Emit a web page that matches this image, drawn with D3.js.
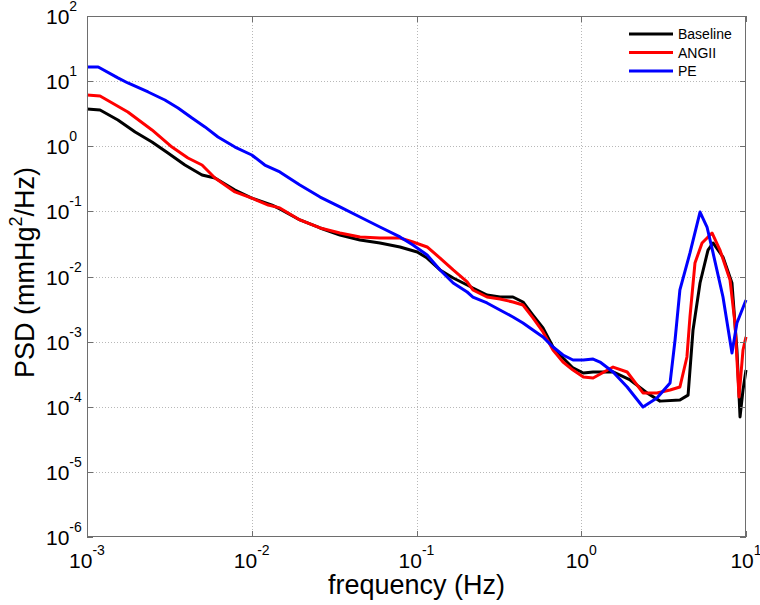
<!DOCTYPE html>
<html>
<head>
<meta charset="utf-8">
<script src="https://cdn.jsdelivr.net/npm/d3@7"></script>
<style>
  body { margin: 0; background: #fff; }
  svg { font-family: Arial, "Liberation Sans", Helvetica, sans-serif; }
</style>
</head>
<body>
<div id="chart"></div>
<script>
// series names, as in the legend
var seriesNames = ["Baseline", "ANGII", "PE"];
var seriesColors = ["#000000", "#ff0000", "#0000ff"];

// frequency (Hz) and PSD (mmHg^2/Hz)
var baselineFreq = [1.0e-3, 1.2e-3, 1.54e-3, 1.96e-3, 2.48e-3, 3.1e-3, 3.93e-3, 4.99e-3, 5.98e-3, 7.91e-3,
    1.0e-2, 1.33e-2, 1.48e-2, 1.96e-2, 2.6e-2, 3.43e-2, 4.54e-2, 6.0e-2, 7.94e-2, 0.101,
    0.116, 0.139, 0.167, 0.203, 0.22, 0.268, 0.321, 0.385, 0.443, 0.509,
    0.586, 0.674, 0.775, 0.891, 1.03, 1.18, 1.56, 1.98, 2.51, 3.01,
    3.97, 4.45, 4.77, 5.26, 5.88, 6.31, 7.25, 8.22, 8.81, 9.2, 9.59, 10];
var baselinePSD = [3.73, 3.6, 2.53, 1.66, 1.16, 0.787, 0.515, 0.362, 0.325, 0.213,
    0.16, 0.125, 0.109, 0.0738, 0.0556, 0.0434, 0.0363, 0.0327, 0.0284, 0.0238,
    0.0192, 0.0126, 0.00948, 0.0074, 0.00665, 0.0052, 0.00484, 0.00484, 0.00406, 0.00256,
    0.00162, 8.27e-4, 5.61e-4, 3.94e-4, 3.3e-4, 3.42e-4, 3.42e-4, 2.58e-4, 1.63e-4, 1.22e-4,
    1.27e-4, 1.51e-4, 1.51e-3, 7.95e-3, 0.0255, 0.0327, 0.0199, 7.95e-3, 7.43e-4, 6.97e-5, 1.81e-4, 3.66e-4];

var angiiFreq = [1.0e-3, 1.2e-3, 1.77e-3, 2.48e-3, 3.28e-3, 4.1e-3, 4.99e-3, 5.98e-3, 7.91e-3, 1.0e-2,
    1.26e-2, 1.48e-2, 1.96e-2, 2.6e-2, 3.43e-2, 4.54e-2, 6.0e-2, 7.94e-2, 9.52e-2, 0.116,
    0.139, 0.167, 0.203, 0.22, 0.268, 0.321, 0.385, 0.443, 0.509, 0.586,
    0.674, 0.775, 0.891, 1.03, 1.18, 1.56, 1.9, 2.37, 2.88, 3.46,
    3.97, 4.38, 4.57, 4.9, 5.41, 6.22, 6.95, 8.0, 8.57, 9.07, 9.59, 10];
var angiiPSD = [6.12, 5.91, 3.36, 1.78, 0.973, 0.66, 0.515, 0.325, 0.199, 0.16,
    0.125, 0.113, 0.0738, 0.0556, 0.0466, 0.0405, 0.039, 0.039, 0.0339, 0.0284,
    0.0192, 0.0126, 0.00824, 0.00621, 0.00484, 0.00451, 0.00406, 0.00365, 0.00231, 0.00141,
    7.43e-4, 4.86e-4, 3.66e-4, 2.86e-4, 2.76e-4, 4.07e-4, 3.42e-4, 1.63e-4, 1.63e-4, 1.81e-4,
    2.01e-4, 5.81e-4, 2.39e-3, 0.0161, 0.0327, 0.0466, 0.0255, 0.00883, 0.00193, 1.41e-4, 7.43e-4, 0.00118];

var peFreq = [1.0e-3, 1.17e-3, 1.54e-3, 1.77e-3, 2.35e-3, 2.97e-3, 3.57e-3, 4.34e-3, 5.2e-3, 6.24e-3,
    7.91e-3, 1.0e-2, 1.2e-2, 1.48e-2, 1.96e-2, 2.6e-2, 3.43e-2, 4.54e-2, 6.0e-2, 7.94e-2,
    9.52e-2, 0.116, 0.139, 0.167, 0.203, 0.22, 0.268, 0.321, 0.385, 0.443,
    0.509, 0.586, 0.674, 0.775, 0.891, 1.03, 1.18, 1.3, 1.56, 1.9,
    2.37, 2.88, 3.46, 3.71, 3.97, 4.57, 5.26, 5.8, 6.31, 7.25, 8.22, 8.81, 10];
var pePSD = [16.5, 16.5, 11.2, 9.36, 6.81, 5.13, 3.87, 2.71, 1.98, 1.39,
    0.973, 0.734, 0.515, 0.403, 0.254, 0.166, 0.117, 0.082, 0.0575, 0.0405,
    0.0305, 0.0214, 0.0126, 0.00795, 0.00578, 0.00484, 0.00392, 0.00306, 0.00239, 0.00193,
    0.00151, 0.00118, 8.27e-4, 6.24e-4, 5.22e-4, 5.22e-4, 5.41e-4, 4.86e-4, 3.42e-4, 2.01e-4,
    9.9e-5, 1.36e-4, 2.32e-4, 1.06e-3, 6.21e-3, 0.023, 0.0977, 0.0575, 0.023, 0.00484, 6.68e-4, 0.00193, 0.00436];

// axis ticks (decades)
var xTickExp = [-3, -2, -1, 0, 1];
var yTickExp = [-6, -5, -4, -3, -2, -1, 0, 1, 2];

var width = 760, height = 605;
var plotL = 87, plotR = 746, plotT = 16, plotB = 537;

var svg = d3.select("#chart").append("svg")
    .attr("width", width)
    .attr("height", height);

var x = d3.scaleLog().domain([1e-3, 10]).range([plotL, plotR]);
var y = d3.scaleLog().domain([1e-6, 1e2]).range([plotB, plotT]);

// grid, dotted
var grid = svg.append("g")
    .attr("stroke", "#b8b8b8")
    .attr("stroke-width", 1)
    .attr("stroke-dasharray", "1,2");
grid.selectAll("line.gx")
    .data(xTickExp.slice(1, -1))
    .enter().append("line")
    .attr("x1", function(e){ return Math.round(x(Math.pow(10, e))) + 0.5; })
    .attr("x2", function(e){ return Math.round(x(Math.pow(10, e))) + 0.5; })
    .attr("y1", plotT).attr("y2", plotB);
grid.selectAll("line.gy")
    .data(yTickExp.slice(1, -1))
    .enter().append("line")
    .attr("y1", function(e){ return Math.round(y(Math.pow(10, e))) + 0.5; })
    .attr("y2", function(e){ return Math.round(y(Math.pow(10, e))) + 0.5; })
    .attr("x1", plotL).attr("x2", plotR);

// the curves
var allSeries = [
    {freq: baselineFreq, psd: baselinePSD},
    {freq: angiiFreq, psd: angiiPSD},
    {freq: peFreq, psd: pePSD}
];
var line = d3.line()
    .x(function(d){ return x(d[0]); })
    .y(function(d){ return y(d[1]); });

svg.append("g").selectAll("path")
    .data(allSeries)
    .enter().append("path")
    .attr("d", function(s){ return line(d3.zip(s.freq, s.psd)); })
    .attr("fill", "none")
    .attr("stroke", function(s, i){ return seriesColors[i]; })
    .attr("stroke-width", 3)
    .attr("stroke-linejoin", "round");

// box and inward ticks, matlab style
var axisCol = "#6e6e6e";
var box = svg.append("g").attr("stroke", axisCol).attr("stroke-width", 1).attr("fill", "none");
box.append("rect")
    .attr("x", plotL + 0.5).attr("y", plotT + 0.5)
    .attr("width", plotR - plotL - 1).attr("height", plotB - plotT - 1);
var tl = 6;
xTickExp.forEach(function(e){
    var px = Math.round(x(Math.pow(10, e))) + 0.5;
    box.append("line").attr("x1", px).attr("x2", px).attr("y1", plotB).attr("y2", plotB - tl);
    box.append("line").attr("x1", px).attr("x2", px).attr("y1", plotT).attr("y2", plotT + tl);
});
yTickExp.forEach(function(e){
    var py = Math.round(y(Math.pow(10, e))) + 0.5;
    box.append("line").attr("y1", py).attr("y2", py).attr("x1", plotL).attr("x2", plotL + tl);
    box.append("line").attr("y1", py).attr("y2", py).attr("x1", plotR).attr("x2", plotR - tl);
});

// tick labels with superscript exponents
function powLabel(sel){
    sel.append("tspan").attr("font-size", 21).text("10");
    sel.append("tspan").attr("font-size", 14).attr("dy", -13).text(function(e){ return e; });
}
svg.append("g").selectAll("text")
    .data(xTickExp)
    .enter().append("text")
    .attr("x", function(e){ return x(Math.pow(10, e)); })
    .attr("y", 568)
    .attr("text-anchor", "middle")
    .call(powLabel);
svg.append("g").selectAll("text")
    .data(yTickExp)
    .enter().append("text")
    .attr("x", 46)
    .attr("y", function(e){ return y(Math.pow(10, e)) + 8; })
    .attr("text-anchor", "start")
    .call(powLabel);

// axis titles
svg.append("text")
    .attr("x", (plotL + plotR) / 2)
    .attr("y", 594)
    .attr("text-anchor", "middle")
    .attr("font-size", 27)
    .text("frequency (Hz)");

var yt = svg.append("text")
    .attr("transform", "translate(34," + ((plotT + plotB) / 2 - 4) + ") rotate(-90)")
    .attr("text-anchor", "middle")
    .attr("font-size", 27);
yt.append("tspan").text("PSD (mmHg");
yt.append("tspan").attr("font-size", 18).attr("dy", -12).text("2");
yt.append("tspan").attr("dy", 12).text("/Hz)");

// legend
var legend = svg.append("g");
legend.append("rect")
    .attr("x", 618).attr("y", 17)
    .attr("width", 127).attr("height", 62)
    .attr("fill", "#fff");
var rows = legend.selectAll("g.row")
    .data(seriesNames)
    .enter().append("g")
    .attr("transform", function(d, i){ return "translate(0," + (34 + i * 18.5) + ")"; });
rows.append("line")
    .attr("x1", 629).attr("x2", 673)
    .attr("stroke", function(d, i){ return seriesColors[i]; })
    .attr("stroke-width", 3);
rows.append("text")
    .attr("x", 678).attr("y", 5)
    .attr("font-size", 14)
    .text(function(d){ return d; });
</script>
</body>
</html>
